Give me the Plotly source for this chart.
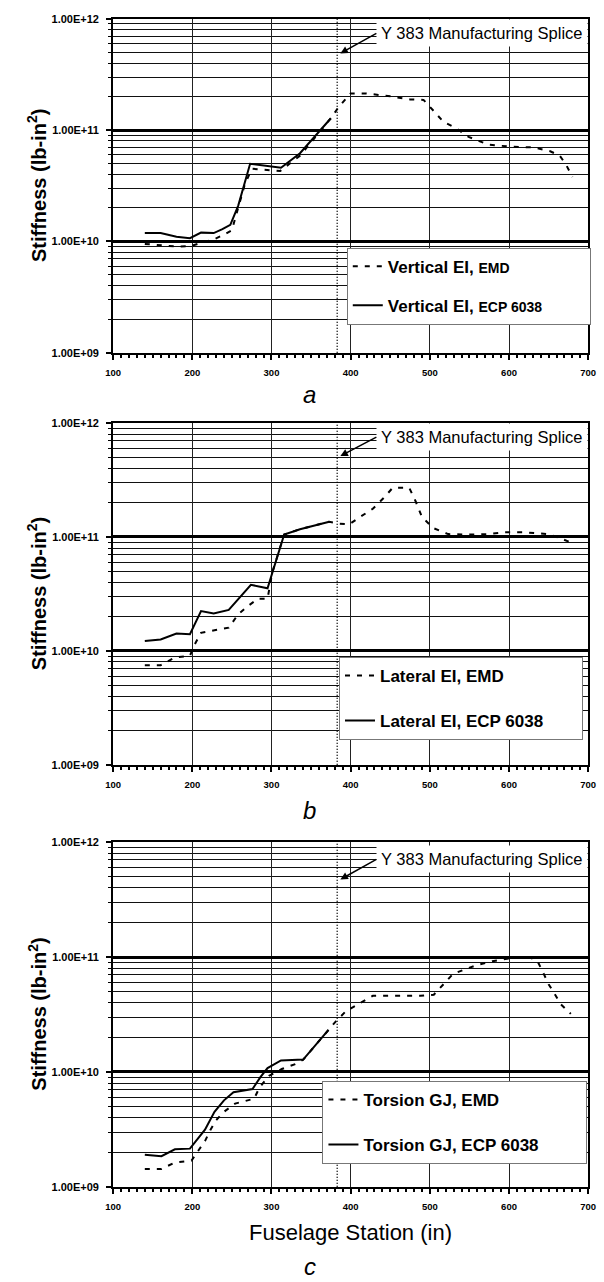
import plotly.graph_objects as go

# ---------------- data ----------------
SPLICE_STA = 383

# Panel a: Vertical EI
a_emd_x = [140, 160, 180, 198, 213, 228, 242, 250, 254, 266, 275, 295, 311, 336, 375, 385, 400, 418, 447,
           475, 492, 504, 517, 533, 549, 574, 603, 631, 652, 664, 672, 680]
a_emd_y = [9.5e9, 9.3e9, 9.0e9, 9.1e9, 9.8e9, 1.05e10, 1.17e10, 1.26e10, 1.6e10, 3.2e10, 4.5e10, 4.4e10, 4.3e10,
           5.9e10, 1.28e11, 1.62e11, 2.14e11, 2.14e11, 2.03e11, 1.89e11, 1.87e11, 1.51e11, 1.19e11, 1.04e11,
           8.7e10, 7.4e10, 7.1e10, 7.0e10, 6.46e10, 5.9e10, 4.9e10, 3.8e10]
a_ecp_x = [140, 160, 180, 197, 211, 227, 238, 248, 258, 273, 312, 336, 375]
a_ecp_y = [1.19e10, 1.19e10, 1.10e10, 1.07e10, 1.20e10, 1.19e10, 1.29e10, 1.41e10, 2.10e10, 4.98e10, 4.60e10,
           6.20e10, 1.28e11]

# Panel b: Lateral EI
b_emd_x = [140, 160, 178, 197, 203, 211, 228, 246, 258, 271, 283, 295, 301, 316, 336, 373, 385, 398, 412, 428,
           443, 453, 474, 482, 490, 504, 523, 549, 574, 595, 619, 650, 664, 677]
b_emd_y = [7.5e9, 7.5e9, 8.75e9, 9.06e9, 1.14e10, 1.44e10, 1.52e10, 1.60e10, 2.10e10, 2.50e10, 2.87e10, 2.87e10,
           4.9e10, 1.05e11, 1.17e11, 1.36e11, 1.31e11, 1.29e11, 1.50e11, 1.77e11, 2.25e11, 2.70e11, 2.70e11,
           2.06e11, 1.50e11, 1.20e11, 1.06e11, 1.05e11, 1.06e11, 1.10e11, 1.10e11, 1.06e11, 9.8e10, 9.0e10]
b_ecp_x = [140, 160, 180, 197, 211, 227, 246, 262, 274, 295, 301, 316, 336, 373]
b_ecp_y = [1.22e10, 1.26e10, 1.42e10, 1.40e10, 2.24e10, 2.13e10, 2.29e10, 3.06e10, 3.80e10, 3.55e10, 4.90e10,
           1.05e11, 1.17e11, 1.36e11]

# Panel c: Torsion GJ
c_emd_x = [140, 161, 178, 199, 207, 216, 223, 230, 240, 254, 278, 285, 297, 313, 330, 340, 372, 381, 394, 412,
           428, 460, 488, 505, 517, 529, 546, 562, 579, 603, 628, 636, 644, 650, 659, 665, 678]
c_emd_y = [1.43e9, 1.43e9, 1.63e9, 1.69e9, 2.04e9, 2.50e9, 3.14e9, 3.80e9, 4.50e9, 5.30e9, 5.85e9, 7.35e9,
           9.25e9, 1.06e10, 1.17e10, 1.28e10, 2.32e10, 2.74e10, 3.38e10, 4.0e10, 4.6e10, 4.6e10, 4.6e10, 4.7e10,
           5.8e10, 7.1e10, 7.9e10, 8.6e10, 9.2e10, 9.8e10, 9.8e10, 9.2e10, 7.1e10, 5.8e10, 4.6e10, 3.9e10, 3.2e10]
c_ecp_x = [140, 161, 178, 197, 216, 228, 240, 252, 276, 286, 295, 312, 340, 372]
c_ecp_y = [1.90e9, 1.85e9, 2.12e9, 2.15e9, 3.14e9, 4.50e9, 5.66e9, 6.67e9, 7.10e9, 9.0e9, 1.08e10, 1.26e10,
           1.28e10, 2.32e10]

x_ticks = [100, 200, 300, 400, 500, 600, 700]
y_ticks = [1e9, 1e10, 1e11, 1e12]
y_ticktext = ["1.00E+09", "1.00E+10", "1.00E+11", "1.00E+12"]

legend_names = [
    ["Vertical EI, <span style='font-size:14px'>EMD</span>",
     "Vertical EI, <span style='font-size:14px'>ECP 6038</span>"],
    ["Lateral EI, EMD", "Lateral EI, ECP 6038"],
    ["Torsion GJ, EMD", "Torsion GJ, ECP 6038"],
]
captions = ["a", "b", "c"]
splice_text = "Y 383 Manufacturing Splice"
y_title = "Stiffness (lb-in<sup>2</sup>)"
x_title = "Fuselage Station (in)"

# ---------------- layout geometry (pixels) ----------------
W, H = 604, 1282
X_L, X_R = 108, 596
panels = [
    dict(top=13, bottom=350, leg=(348, 244), gap=14, pad=9, head=(387, 11.69), tail=(36, -20), cap_y=392),
    dict(top=421, bottom=766, leg=(340, 657), gap=20, pad=7, head=(387, 11.71), tail=(36, -19), cap_y=812),
    dict(top=844, bottom=1192, leg=(323, 1085), gap=20, pad=9, head=(387, 11.675), tail=(36, -20), cap_y=1272),
]
data = [(a_emd_x, a_emd_y, a_ecp_x, a_ecp_y),
        (b_emd_x, b_emd_y, b_ecp_x, b_ecp_y),
        (c_emd_x, c_emd_y, c_ecp_x, c_ecp_y)]

minor_y = [k * 10 ** d for d in (9, 10, 11) for k in range(2, 10)]


def px(xp):
    return xp / W


def py(yp):
    return 1 - yp / H


fig = go.Figure()
annotations = []
shapes = []

for i, (p, d) in enumerate(zip(panels, data)):
    sfx = "" if i == 0 else str(i + 1)
    leg = "legend" if i == 0 else "legend" + str(i + 1)
    ex, ey, sx, sy = d
    pad = "&nbsp;" * p["pad"]  # widens the legend box like the reference
    fig.add_trace(go.Scatter(x=ex, y=ey, mode="lines", name=legend_names[i][0] + pad,
                             line=dict(color="black", width=2, dash="5px,7px"),
                             xaxis="x" + sfx, yaxis="y" + sfx, legend=leg, legendgroup="e%d" % i))
    fig.add_trace(go.Scatter(x=sx, y=sy, mode="lines", name=legend_names[i][1] + pad,
                             line=dict(color="black", width=2),
                             xaxis="x" + sfx, yaxis="y" + sfx, legend=leg, legendgroup="s%d" % i))

    fig.update_layout(**{
        "xaxis" + sfx: dict(
            domain=[px(X_L), px(X_R)], anchor="y" + sfx, range=[100, 700],
            tickmode="array", tickvals=x_ticks, ticktext=[str(v) for v in x_ticks],
            showgrid=True, gridcolor="#222", gridwidth=1, zeroline=False,
            showline=True, linecolor="black", linewidth=2, mirror=True,
            ticks="outside", ticklen=5, tickwidth=1.5, tickcolor="black", ticklabelstandoff=5,
            minor=dict(dtick=10, ticks="outside", ticklen=3, tickwidth=1.5, tickcolor="black", showgrid=False),
            tickfont=dict(family="Arial", size=9.5, color="black", weight="bold"),
        ),
        "yaxis" + sfx: dict(
            domain=[py(p["bottom"]), py(p["top"])], anchor="x" + sfx, type="log", range=[9, 12],
            tickmode="array", tickvals=y_ticks, ticktext=y_ticktext,
            showgrid=True, gridcolor="black", gridwidth=2.5, zeroline=False,
            showline=True, linecolor="black", linewidth=2, mirror=True,
            ticks="outside", ticklen=5, tickwidth=1.5, tickcolor="black", ticklabelstandoff=5,
            minor=dict(tickvals=minor_y, ticks="outside", ticklen=3, tickwidth=1, tickcolor="black",
                       showgrid=True, gridcolor="#111", gridwidth=1),
            tickfont=dict(family="Arial", size=11, color="black", weight="bold"),
        ),
        leg: dict(
            x=px(p["leg"][0]), y=py(p["leg"][1]), xanchor="left", yanchor="top",
            bgcolor="white", bordercolor="#777", borderwidth=1,
            font=dict(family="Arial", size=17, color="black", weight="bold"),
            tracegroupgap=p["gap"], itemwidth=30, traceorder="grouped",
        ),
    })

    # splice reference line
    shapes.append(dict(type="line", xref="x" + sfx, yref="y%s domain" % sfx,
                       x0=SPLICE_STA, x1=SPLICE_STA, y0=0, y1=1,
                       line=dict(color="black", width=1.5, dash="1px,2px"), layer="above"))
    # splice label with arrow (arrow starts at the left edge of the label)
    annotations.append(dict(xref="x" + sfx, yref="y" + sfx, x=p["head"][0], y=p["head"][1],
                            text=splice_text, showarrow=True, arrowhead=2, arrowsize=1,
                            arrowwidth=1.5, arrowcolor="black", ax=p["tail"][0], ay=p["tail"][1],
                            axref="pixel", ayref="pixel", standoff=0,
                            xanchor="left", yanchor="middle", bgcolor="white", borderpad=4,
                            font=dict(family="Arial", size=16.5, color="black")))
    # y title
    annotations.append(dict(xref="paper", yref="paper", x=px(30), y=py((p["top"] + p["bottom"]) / 2),
                            xanchor="center", yanchor="middle",
                            text=y_title, textangle=-90, showarrow=False,
                            font=dict(family="Arial", size=20, color="black", weight="bold")))
    # caption
    annotations.append(dict(xref="paper", yref="paper", x=px(310), y=py(p["cap_y"]),
                            xanchor="center", yanchor="middle",
                            text=captions[i], showarrow=False,
                            font=dict(family="Arial", size=24, color="black", style="italic")))

annotations.append(dict(xref="paper", yref="paper", x=px(352), y=py(1238), xanchor="center", yanchor="middle",
                        text=x_title, showarrow=False,
                        font=dict(family="Arial", size=22, color="black")))

fig.update_layout(width=W, height=H, margin=dict(l=0, r=0, t=0, b=0), autosize=False,
                  plot_bgcolor="white", paper_bgcolor="white", showlegend=True,
                  annotations=annotations, shapes=shapes)

fig.write_html("out.html", config={"displayModeBar": False},
               post_script="document.body.style.margin='0';")
